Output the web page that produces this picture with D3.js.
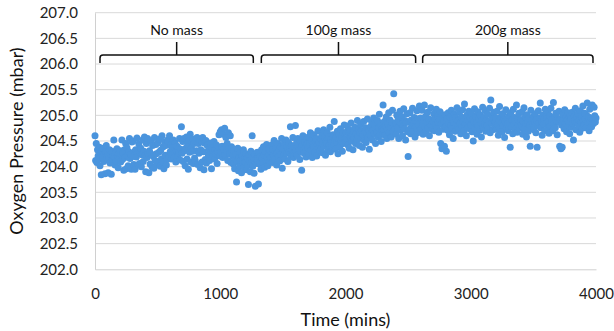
<!DOCTYPE html>
<html><head><meta charset="utf-8">
<script src="https://cdn.jsdelivr.net/npm/d3@7"></script>
<style>html,body{margin:0;padding:0;background:#fff;}svg{display:block;font-family:Lato,"Open Sans",sans-serif;}</style>
</head><body><svg id="c" width="614" height="331"></svg>
<script>
// time step between samples (mins)
const timeStart = 0, timeStep = 5;
// Oxygen pressure readings (mbar), one every 5 mins, rows of 100 mins
const pressure = [
204.60,204.12,204.45,204.08,204.33,204.21,204.15,204.38,204.02,204.27,203.84,204.31,204.19,204.36,204.10,204.24,203.86,204.29,204.41,204.17,
204.26,203.88,204.18,204.33,204.07,204.24,203.85,204.30,204.14,204.21,204.52,204.19,204.03,204.28,204.11,204.35,204.20,203.98,204.25,204.16,
204.31,204.09,204.22,204.52,204.14,204.27,203.93,204.33,204.18,204.45,203.96,204.37,204.21,204.02,204.29,204.55,204.16,204.24,203.95,204.48,
204.20,204.50,204.04,204.29,203.95,204.33,204.19,204.56,204.25,204.03,204.44,204.06,204.27,204.36,204.00,204.23,204.52,204.10,204.30,204.58,
204.22,203.90,204.45,204.18,204.55,204.26,203.88,204.31,204.05,204.50,204.24,204.00,204.41,204.20,203.97,204.57,204.12,204.43,204.25,204.04,
204.46,204.09,204.28,204.54,204.01,204.32,204.15,204.60,204.10,204.39,203.96,204.48,204.22,204.41,204.03,204.14,204.52,204.48,204.20,204.60,
204.29,204.42,204.15,204.37,204.24,204.52,204.18,204.33,204.46,204.09,204.31,204.40,204.21,204.36,204.27,204.55,204.13,204.34,204.78,204.26,
204.49,204.10,204.55,204.31,204.02,204.36,204.58,204.15,204.44,203.95,204.51,204.28,204.63,204.09,204.37,204.30,204.54,204.06,204.45,204.17,
204.12,204.50,204.31,204.57,204.04,204.45,204.26,204.53,203.98,204.33,204.48,204.09,204.57,204.29,203.94,204.46,204.14,204.51,204.07,204.42,
204.41,204.23,204.34,204.12,204.46,204.28,203.96,204.37,204.20,204.31,204.49,204.15,204.33,204.25,204.42,204.06,204.30,204.38,204.62,204.21,
204.68,204.29,204.72,204.40,204.18,204.63,204.34,204.75,204.22,204.57,204.31,204.45,204.12,204.66,204.37,204.25,204.60,204.08,204.39,204.28,
204.20,204.05,204.31,203.96,204.15,204.24,203.70,204.10,204.36,203.92,204.18,204.02,204.27,204.13,203.88,204.21,204.08,204.33,203.99,204.16,
204.09,204.25,203.94,204.17,204.03,203.65,204.22,204.11,203.90,204.30,204.14,204.60,204.01,204.19,203.87,204.24,203.62,204.06,204.15,204.28,
204.13,203.66,204.27,204.05,204.20,203.95,204.33,204.16,204.08,204.39,204.22,203.99,204.29,204.12,204.43,204.18,204.02,204.35,204.24,204.10,
204.30,204.17,204.42,204.08,204.33,204.22,204.51,204.14,204.28,204.37,204.03,204.26,204.45,204.19,204.31,204.11,204.39,204.24,204.55,203.97,
204.35,204.21,204.44,204.15,204.30,204.52,204.26,204.38,204.10,204.47,204.29,204.36,204.78,204.20,204.41,204.33,204.57,204.18,204.40,204.27,
204.80,204.31,204.47,204.22,204.55,204.36,204.43,204.14,204.50,204.29,203.93,204.41,204.60,204.33,204.26,204.48,204.38,204.19,204.53,204.44,
204.37,204.58,204.25,204.46,204.66,204.32,204.51,204.18,204.44,204.39,204.62,204.28,204.49,204.55,204.21,204.42,204.70,204.35,204.47,204.30,
204.54,204.36,204.61,204.27,204.48,204.72,204.40,204.57,204.22,204.50,204.45,204.66,204.33,204.59,204.42,204.77,204.29,204.53,204.46,204.38,
204.62,204.43,204.88,204.51,204.34,204.58,204.47,204.69,204.25,204.55,204.63,204.39,204.74,204.50,204.57,204.30,204.66,204.45,204.81,204.53,
204.48,204.67,204.55,204.79,204.42,204.63,204.36,204.71,204.58,204.85,204.50,204.61,204.33,204.69,204.56,204.77,204.45,204.64,204.52,204.90,
204.59,204.74,204.41,204.66,204.83,204.55,204.70,204.38,204.62,204.88,204.51,204.68,204.76,204.47,204.65,204.93,204.57,204.72,204.34,204.63,
204.78,204.60,204.86,204.52,204.71,204.95,204.64,204.81,204.45,204.74,204.67,204.90,204.58,204.76,205.02,204.62,204.84,204.49,204.73,204.69,
205.20,204.72,204.88,204.61,204.79,204.97,204.55,204.83,204.70,205.05,204.66,204.91,204.77,204.58,204.86,205.10,204.69,205.42,204.81,204.74,
204.85,204.63,205.00,204.76,204.92,204.55,204.88,205.08,204.71,204.83,204.97,204.60,204.79,205.13,204.74,204.90,204.52,204.86,205.03,204.68,
204.20,204.87,204.73,205.05,204.64,204.91,204.80,205.14,204.69,204.84,204.96,204.58,204.89,204.77,205.09,204.66,204.93,204.82,205.18,204.71,
204.95,204.74,205.10,204.82,204.63,204.90,205.20,204.78,204.98,204.69,204.87,205.06,204.75,204.93,204.60,204.85,205.15,204.80,204.91,204.72,
204.88,205.03,204.70,204.94,204.81,205.12,204.76,204.99,204.86,204.67,204.92,205.07,204.45,204.83,204.35,204.96,204.73,204.89,204.40,205.01,
204.78,204.30,204.93,204.71,205.05,204.84,204.62,204.97,204.80,205.10,204.74,204.91,204.55,204.86,205.02,204.69,204.95,204.81,205.15,204.77,
204.90,204.72,205.06,204.85,204.64,204.97,204.79,205.11,204.88,204.70,205.22,204.83,204.93,204.60,205.00,204.76,204.89,205.08,204.74,204.95,
204.81,205.04,204.68,204.92,204.50,204.87,205.13,204.75,204.98,204.84,204.63,205.07,204.79,204.94,204.71,205.01,204.86,204.58,204.90,205.16,
204.77,204.96,204.83,205.09,204.69,204.91,204.80,205.02,204.74,204.88,205.14,204.66,205.30,204.85,204.99,204.72,204.93,205.06,204.79,204.87,
204.95,204.73,205.08,204.82,204.61,204.90,205.17,204.76,204.97,204.85,204.68,205.03,204.80,204.92,204.57,204.88,205.11,204.75,204.94,204.83,
204.70,204.99,204.86,204.38,205.05,204.78,204.91,204.64,205.12,204.82,204.96,204.73,204.89,205.20,204.67,204.93,204.81,205.04,204.75,204.87,
204.92,204.79,205.07,204.63,204.88,205.15,204.74,204.97,204.84,204.58,205.01,204.86,204.69,204.94,204.81,204.40,205.10,204.77,204.90,204.83,
204.98,204.72,204.87,205.03,204.66,204.91,204.38,204.80,205.09,204.85,204.95,205.24,204.76,204.89,204.61,205.00,204.83,204.93,204.70,205.12,
204.84,204.96,204.73,205.06,204.88,204.65,204.99,204.79,205.14,204.86,204.92,204.70,205.25,204.83,204.97,204.76,205.04,204.89,204.62,204.94,
204.87,205.08,204.40,204.93,204.35,204.81,204.38,205.02,204.90,204.74,205.11,204.85,204.96,204.68,204.91,205.05,204.79,204.88,204.64,205.00,
204.93,204.77,205.06,204.84,204.52,204.98,204.89,205.14,204.72,204.95,204.86,205.03,204.80,204.91,204.67,205.09,204.87,204.97,204.75,205.18,
204.90,204.81,205.04,204.93,204.76,205.00,205.24,204.86,204.97,204.70,205.12,204.89,204.95,204.78,205.20,204.92,204.84,205.16,204.99,204.87,
204.95
];
const xTicks = [0, 1000, 2000, 3000, 4000];
const yTicks = [202.0, 202.5, 203.0, 203.5, 204.0, 204.5, 205.0, 205.5, 206.0, 206.5, 207.0];
const phaseLabels = ["No mass", "100g mass", "200g mass"];
const phaseStart = [40, 1328, 2616];
const phaseEnd = [1264, 2560, 3976];
const xTitle = "Time (mins)";
const yTitle = "Oxygen Pressure (mbar)";

const data = pressure.map((v, i) => ({t: timeStart + i * timeStep, v}));

const svg = d3.select("#c");
const L = 95, R = 596, T = 12.7, B = 269.3;
const x = d3.scaleLinear().domain([0, 4000]).range([L, R]);
const y = d3.scaleLinear().domain([202, 207]).range([B, T]);

// gridlines
svg.append("g").selectAll("line").data(yTicks.slice(1)).join("line")
  .attr("x1", L).attr("x2", R).attr("y1", d => y(d)).attr("y2", d => y(d))
  .attr("stroke", "#d9d9d9").attr("stroke-width", 1);

// axes
const yAxis = d3.axisLeft(y).tickValues(yTicks).tickFormat(d3.format(".1f")).tickSize(0).tickPadding(17);
const gy = svg.append("g").attr("transform", `translate(${L},0)`).call(yAxis);
gy.select(".domain").attr("stroke", "#d0d0d0");
gy.selectAll("text").attr("font-size", 15).attr("fill", "#222").attr("font-family", "Lato, 'Open Sans', sans-serif");

const xAxis = d3.axisBottom(x).tickValues(xTicks).tickFormat(d3.format("d")).tickSize(0).tickPadding(19);
const gx = svg.append("g").attr("transform", `translate(0,${B})`).call(xAxis);
gx.select(".domain").attr("stroke", "#d0d0d0");
gx.selectAll("text").attr("font-size", 15).attr("fill", "#222").attr("font-family", "Lato, 'Open Sans', sans-serif");

// points
svg.append("g").selectAll("circle").data(data).join("circle")
  .attr("cx", d => x(d.t)).attr("cy", d => y(d.v)).attr("r", 3.5)
  .attr("fill", "#4a94dd");

// braces
const braceY = 55, braceEndY = 63, braceTopY = 42;
const br = svg.append("g");
phaseLabels.forEach((lab, i) => {
  const x1 = x(phaseStart[i]), x2 = x(phaseEnd[i]), xm = (x1 + x2) / 2;
  const p = `M${x1},${braceEndY} L${x1},${braceY+3} Q${x1},${braceY} ${x1+3},${braceY} L${x2-3},${braceY} Q${x2},${braceY} ${x2},${braceY+3} L${x2},${braceEndY} M${xm},${braceY} L${xm},${braceTopY}`;
  br.append("path").attr("d", p).attr("fill", "none").attr("stroke", "#111").attr("stroke-width", 1.5);
  br.append("text").attr("x", xm).attr("y", 35).attr("text-anchor", "middle")
    .attr("font-size", 14).attr("fill", "#111").text(lab);
});

// titles
svg.append("text").attr("x", (L + R) / 2).attr("y", 326).attr("text-anchor", "middle")
  .attr("font-size", 18).attr("fill", "#111").text(xTitle);
svg.append("text").attr("transform", `translate(23,${(T + B) / 2}) rotate(-90)`)
  .attr("text-anchor", "middle").attr("font-size", 18).attr("fill", "#111").text(yTitle);
</script></body></html>
